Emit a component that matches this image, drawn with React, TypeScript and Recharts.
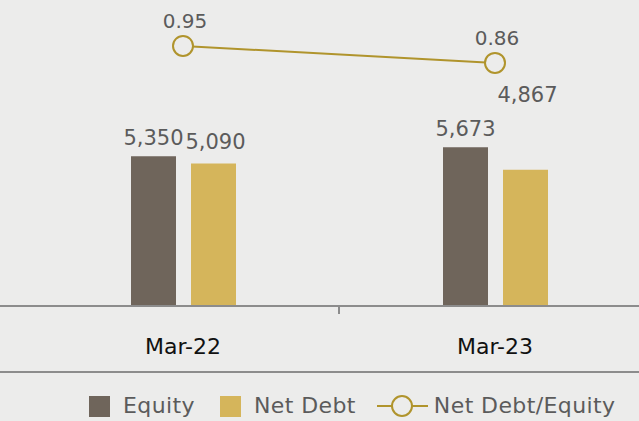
import React from "react";
import { ComposedChart, Bar, Line, XAxis, YAxis, Legend, LabelList } from "recharts";

const periods = ["Mar-22", "Mar-23"];
const equity = [5350, 5673];
const netDebt = [5090, 4867];
const debtToEquity = [0.95, 0.86];

const data = periods.map((p, i) => ({
  period: p,
  equity: equity[i],
  netDebt: netDebt[i],
  ratio: debtToEquity[i],
}));

const BG = "#ececeb";
const EQUITY = "#6f655b";
const NET_DEBT = "#d5b55b";
const RATIO = "#b0942c";
const LABEL = "#5b5b5b";
const RULE = "#8c8c8c";
const FONT = "'DejaVu Sans', sans-serif";

const fmt = (v: number) => v.toLocaleString("en-US");

const PeriodTick = (props: any) => {
  const { x, y, payload, index, visibleTicksCount } = props;
  const half = payload?.offset ?? 0;
  return (
    <g>
      <text x={x} y={y + 48} textAnchor="middle" fill="#111" fontSize={22} fontFamily={FONT}>
        {payload.value}
      </text>
      {index < visibleTicksCount - 1 && half > 0 && (
        <line x1={x + half} x2={x + half} y1={y} y2={y + 8} stroke={RULE} strokeWidth={2} />
      )}
    </g>
  );
};

const equityLabel = (props: any) => {
  const { x, y, width, value } = props;
  return (
    <text x={x + width / 2} y={y - 11} textAnchor="middle" fill={LABEL} fontSize={21} fontFamily={FONT}>
      {fmt(value)}
    </text>
  );
};

// the second net debt label sits up under the ratio marker in the original
const netDebtLabel = (props: any) => {
  const { x, y, width, value, index } = props;
  const lift = index === 1 ? 54 : 0;
  return (
    <text x={x + width / 2 + 2} y={y - 14 - lift} textAnchor="middle" fill={LABEL} fontSize={21} fontFamily={FONT}>
      {fmt(value)}
    </text>
  );
};

const ratioLabel = (props: any) => {
  const { x, y, value } = props;
  return (
    <text x={x + 2} y={y - 18} textAnchor="middle" fill={LABEL} fontSize={20} fontFamily={FONT}>
      {Number(value).toFixed(2)}
    </text>
  );
};

const LegendRow = (props: any) => {
  const items = props.payload || [];
  return (
    <div
      style={{
        display: "flex",
        alignItems: "center",
        paddingLeft: 89,
        paddingTop: 21,
        fontFamily: FONT,
        fontSize: 22,
        letterSpacing: 0.4,
        color: LABEL,
        lineHeight: "24px",
      }}
    >
      {items.map((it: any, i: number) => (
        <div key={i} style={{ display: "flex", alignItems: "center", marginRight: i === 0 ? 25 : 21 }}>
          {it.type === "line" ? (
            <svg width={51} height={24} style={{ marginRight: 6 }}>
              <line x1={0} x2={51} y1={12} y2={12} stroke={RATIO} strokeWidth={2} />
              <circle cx={25} cy={12} r={10} fill={BG} stroke={RATIO} strokeWidth={2} />
            </svg>
          ) : (
            <div style={{ width: 21, height: 21, background: it.color, marginRight: 13 }} />
          )}
          <span>{it.value}</span>
        </div>
      ))}
    </div>
  );
};

export default function App() {
  return (
    <div
      style={{
        position: "absolute",
        left: 0,
        top: 0,
        width: 639,
        height: 421,
        overflow: "hidden",
        background: BG,
      }}
    >
      <ComposedChart
        width={660}
        height={421}
        data={data}
        margin={{ top: 12, right: 0, bottom: 0, left: 0 }}
        barGap={15}
      >
        <XAxis
          dataKey="period"
          padding={{ left: 27, right: 9 }}
          axisLine={{ stroke: RULE, strokeWidth: 2 }}
          tickLine={false}
          tickSize={0}
          tickMargin={0}
          height={65}
          tick={<PeriodTick />}
          interval={0}
        />
        <YAxis yAxisId="l" hide domain={[0, 10500]} />
        <YAxis yAxisId="r" orientation="right" hide domain={[-0.43, 1.13]} />
        <Legend
          verticalAlign="bottom"
          align="left"
          height={50}
          content={<LegendRow />}
          wrapperStyle={{ borderTop: `2px solid ${RULE}`, boxSizing: "border-box", left: 0, width: 660 }}
        />
        <Bar yAxisId="l" dataKey="equity" name="Equity" fill={EQUITY} barSize={45} isAnimationActive={false}>
          <LabelList dataKey="equity" content={equityLabel} />
        </Bar>
        <Bar yAxisId="l" dataKey="netDebt" name="Net Debt" fill={NET_DEBT} barSize={45} isAnimationActive={false}>
          <LabelList dataKey="netDebt" content={netDebtLabel} />
        </Bar>
        <Line
          yAxisId="r"
          dataKey="ratio"
          name="Net Debt/Equity"
          stroke={RATIO}
          strokeWidth={2}
          dot={{ r: 10, fill: BG, stroke: RATIO, strokeWidth: 2 }}
          legendType="line"
          isAnimationActive={false}
        >
          <LabelList dataKey="ratio" content={ratioLabel} />
        </Line>
      </ComposedChart>
    </div>
  );
}
